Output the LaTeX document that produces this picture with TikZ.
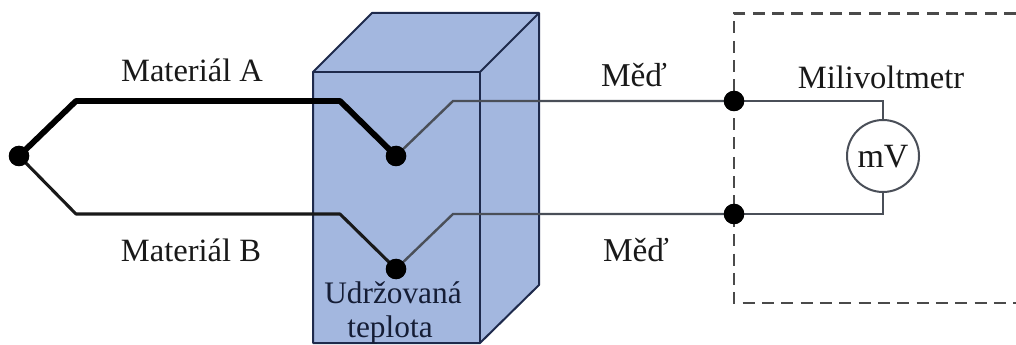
\documentclass[tikz,border=0pt]{standalone}
\usepackage{fontspec}
\setmainfont{Liberation Serif}
\definecolor{boxfill}{HTML}{A3B7DF}
\definecolor{boxline}{HTML}{1E2A4C}
\definecolor{wiregray}{HTML}{4A4F58}
\definecolor{dashgray}{HTML}{4A4A4A}
\tikzset{
  dotnode/.style={circle,fill=black,draw=none,inner sep=0pt,minimum size=15pt},
  lbl/.style={font=\fontsize{24.4}{28}\selectfont,text=black!90,inner sep=0pt,anchor=base},
  thickwire/.style={line width=4.4pt,black,line join=round},
  thinwire/.style={line width=2.3pt,black!90,line join=round},
  copperwire/.style={line width=1.8pt,wiregray,line join=miter},
  boxedge/.style={draw=boxline,line width=1.5pt,line join=round},
}
\begin{document}
\begin{tikzpicture}[x=0.75pt,y=-0.75pt]
\useasboundingbox (0,0) rectangle (1016,345);
% dashed enclosure
\draw[dashgray,line width=1.7pt,dash pattern=on 9pt off 5.5pt] (1016,13.5) -- (734,13.5) -- (734,303) -- (1016,303);
% block
\path[fill=boxfill] (313,72) -- (372,13) -- (539,13) -- (539,285) -- (480,343) -- (313,343) -- cycle;
\draw[boxedge] (313,343) -- (313,72) -- (372,13) -- (539,13) -- (539,285) -- (480,343) -- cycle;
\draw[boxedge] (313,72) -- (480,72) -- (480,343);
\draw[boxedge] (480,72) -- (539,13);
% junctions
\node[dotnode] (hot) at (19,156) {};
\node[dotnode] (ca) at (396,156) {};
\node[dotnode] (cb) at (396,269) {};
\node[dotnode] (ta) at (734,101) {};
\node[dotnode] (tb) at (734,214) {};
\node[circle,draw=wiregray,line width=1.5pt,fill=white,minimum size=54pt,inner sep=0pt] (mv) at (883,156) {};
\node[lbl,font=\fontsize{25.5}{28}\selectfont] at (883,168) {mV};
% bends
\coordinate (a1) at (76,101);
\coordinate (a2) at (340,101);
\coordinate (b1) at (76,214);
\coordinate (b2) at (340,214);
\coordinate (c1) at (453,101);
\coordinate (d1) at (453,214);
\coordinate (m1) at (883,101);
\coordinate (m2) at (883,214);
% wires
\draw[thickwire] (hot.center) -- (a1) -- (a2) -- (ca.center);
\draw[thinwire] (hot.center) -- (b1) -- (b2) -- (cb.center);
\draw[copperwire] (ca.center) -- (c1) -- (ta.center);
\draw[copperwire] (cb.center) -- (d1) -- (tb.center);
\draw[copperwire] (ta.center) -- (m1) -- (mv.north);
\draw[copperwire] (tb.center) -- (m2) -- (mv.south);
% redraw dots over wires
\foreach \p in {(19,156),(396,156),(396,269),(734,101),(734,214)} \fill[black] \p circle (10.3);
% labels
\node[lbl] (la) at (192,82) {Materiál A};
\node[lbl] (lb) at (191,262) {Materiál B};
\node[lbl,font=\fontsize{25}{28}\selectfont] (cu1) at (634,87) {Měď};
\node[lbl,font=\fontsize{25}{28}\selectfont] (cu2) at (636,262) {Měď};
\node[lbl] (lm) at (881,89) {Milivoltmetr};
\node[lbl,font=\fontsize{23.5}{28}\selectfont,text=boxline!70!black] (ua) at (393,303) {Udržovaná};
\node[lbl,font=\fontsize{23.5}{28}\selectfont,text=boxline!70!black] (ub) at (390,337.5) {teplota};
\end{tikzpicture}
\end{document}
